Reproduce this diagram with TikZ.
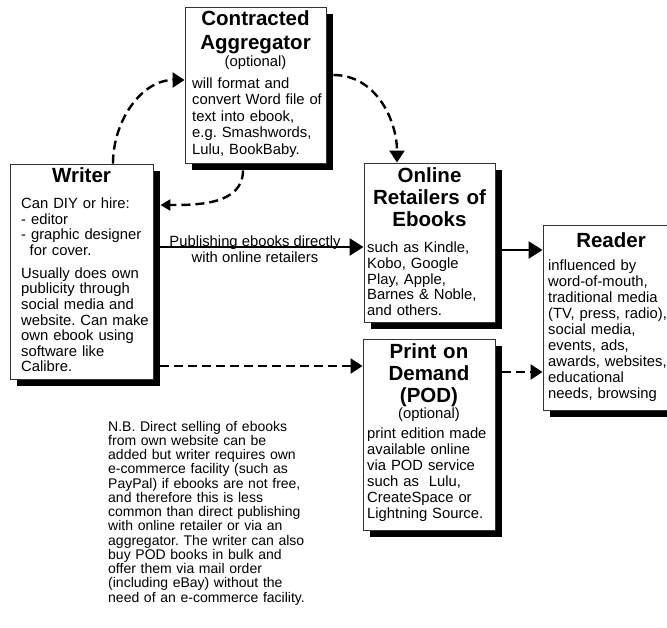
\documentclass[tikz,border=0pt]{standalone}
\usepackage{fontspec}
\setmainfont{Liberation Sans}
\usetikzlibrary{arrows.meta,shadows}
\frenchspacing
\begin{document}
\frenchspacing
\begin{tikzpicture}[x=1pt,y=-1pt,
  box/.style={draw=black!80, line width=0.9pt, fill=white, inner sep=0,
    general shadow={fill=black, shadow xshift=7pt, shadow yshift=-7pt}},
  ttl/.style={font=\fontsize{20.5}{22.5}\selectfont\bfseries, align=center, anchor=base, inner sep=0, text width=150pt},
  opt/.style={font=\fontsize{14.8}{16}\selectfont, anchor=base, inner sep=0},
  body/.style={font=\fontsize{14.8}{15.8}\selectfont, align=left, anchor=base west, inner sep=0, text width=150pt},
  solidarrow/.style={line width=2.6pt, -{Triangle[length=14pt,width=17pt]}},
  dasharrow/.style={line width=2.4pt, dash pattern=on 9pt off 5pt, -{Triangle[length=12pt,width=15pt]}},
  smallarrow/.style={line width=2.4pt, dash pattern=on 9pt off 5pt, -{Triangle[length=10pt,width=11pt]}}
]
\useasboundingbox (0,0) rectangle (667,627);
\fill[white] (0,0) rectangle (667,627);

% boxes
\node[box, minimum width=143pt, minimum height=215pt] (writer) at (81.5,271.5) {};
\node[box, minimum width=141pt, minimum height=156pt] (agg) at (255.5,85) {};
\node[box, minimum width=131pt, minimum height=159pt] (retail) at (429.5,242.5) {};
\node[box, minimum width=132pt, minimum height=191pt] (pod) at (429,434.5) {};
\node[box, minimum width=136pt, minimum height=185pt] (reader) at (611,317.5) {};

% Aggregator text
\node[ttl, font=\fontsize{20.5}{24}\selectfont\bfseries] (aggt) at (255.5,25.5) {Contracted\\Aggregator};
\node[opt] (aggo) at (255.5,66) {(optional)};
\node[body, font=\fontsize{14.8}{16.4}\selectfont] (aggb) at (192,88.5) {will format and\\convert Word file of\\text into ebook,\\e.g. Smashwords,\\Lulu, BookBaby.};

% Writer text
\node[ttl] (writert) at (81.5,182.5) {Writer};
\node[body, font=\fontsize{14.8}{15.6}\selectfont] (writerb) at (21,208.5) {Can DIY or hire:\\- editor\\- graphic designer\\\hspace*{8.5pt}for cover.\\[7.3pt]Usually does own\\publicity through\\social media and\\website. Can make\\own ebook using\\software like\\Calibre.};

% Retailers text
\node[ttl, font=\fontsize{20.5}{22}\selectfont\bfseries] (retailt) at (429.5,182.5) {Online\\Retailers of\\Ebooks};
\node[body, font=\fontsize{14.8}{15.8}\selectfont] (retailb) at (367,252.5) {such as Kindle,\\Kobo, Google\\Play, Apple,\\Barnes \& Noble,\\and others.};

% POD text
\node[ttl, font=\fontsize{20.5}{22}\selectfont\bfseries] (podt) at (429,358.5) {Print on\\Demand\\(POD)};
\node[opt] (podo) at (429,418.5) {(optional)};
\node[body, font=\fontsize{14.8}{16}\selectfont] (podb) at (367,438.5) {print edition made\\available online\\via POD service\\such as\ \ Lulu,\\CreateSpace or\\Lightning Source.};

% Reader text
\node[ttl] (readert) at (611,247) {Reader};
\node[body, font=\fontsize{14.8}{16}\selectfont] (readerb) at (548,270.5) {influenced by\\word-of-mouth,\\traditional media\\(TV, press, radio),\\social media,\\events, ads,\\awards, websites,\\educational\\needs, browsing};

% N.B. text
\node[body, font=\fontsize{14}{14.25}\selectfont, text width=200pt] (nb) at (108,431) {N.B. Direct selling of ebooks\\from own website can be\\added but writer requires own\\e-commerce facility (such as\\PayPal) if ebooks are not free,\\and therefore this is less\\common than direct publishing\\with online retailer or via an\\aggregator. The writer can also\\buy POD books in bulk and\\offer them via mail order\\(including eBay) without the\\need of an e-commerce facility.};

% label
\node[font=\fontsize{14.8}{16}\selectfont, align=center, inner sep=0, anchor=base] (publ) at (255,262.5) {Publishing ebooks directly\\with online retailers};

% connectors
\coordinate (y1) at (0,247);
\coordinate (y2) at (0,366);
\coordinate (y3) at (0,250);
\coordinate (y4) at (0,372);
\draw[solidarrow] ([xshift=7pt]writer.east |- y1) -- (retail.west |- y1);
\draw[dasharrow] ([xshift=7pt]writer.east |- y2) -- (pod.west |- y2);
\draw[solidarrow] ([xshift=7pt]retail.east |- y3) -- (reader.west |- y3);
\draw[dasharrow] ([xshift=7pt]pod.east |- y4) -- (reader.west |- y4);

\coordinate (c1) at (113,0);
\coordinate (c2) at (0,80);
\draw[dasharrow] (writer.north -| c1) to[out=90,in=180] (agg.west |- c2);

\coordinate (c3) at (243,0);
\coordinate (c4) at (0,205);
\draw[smallarrow] ([yshift=-7pt]agg.south -| c3) to[out=-90,in=0] ([xshift=7pt]writer.east |- c4);

\coordinate (c5) at (0,75);
\coordinate (c6) at (397,0);
\draw[dasharrow] ([xshift=7pt]agg.east |- c5) to[out=0,in=90] (retail.north -| c6);
\end{tikzpicture}
\end{document}
